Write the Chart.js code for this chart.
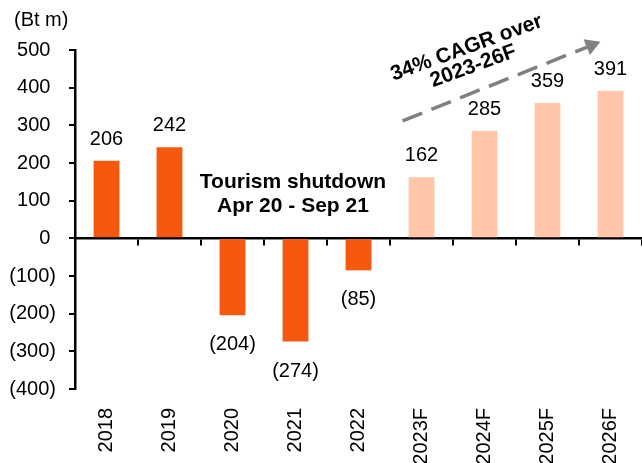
<!DOCTYPE html>
<html><head><meta charset="utf-8">
<script src="https://cdn.jsdelivr.net/npm/chart.js@4.4.1/dist/chart.umd.min.js"></script>
<style>html,body{margin:0;padding:0;background:#fff}</style>
</head><body>
<canvas id="c" width="642" height="463"></canvas>
<script>
// ---- data ----
const categories = ['2018','2019','2020','2021','2022','2023F','2024F','2025F','2026F'];
const values = [206, 242, -204, -274, -85, 162, 285, 359, 391];
const isForecast = [false,false,false,false,false,true,true,true,true];
const yMin = -400, yMax = 500, yStep = 100;
const unitLabel = '(Bt m)';
const shutdownNote = ['Tourism shutdown', 'Apr 20 - Sep 21'];
const cagrNote = ['34% CAGR over', '2023-26F'];

// ---- styling / annotation anchors (in scale units) ----
const FONT = "'Liberation Sans', Arial, sans-serif";
const actualColor = '#F4590F';
const forecastColor = '#FFC6AA';
const shutdownAnchor = {x: 2.96, y: 133};
const cagrAnchor = {x: 5.80, y: 467, angle: -20};
const arrowFrom = {x: 4.70, y: 312};
const arrowTo = {x: 7.84, y: 522};

const fmtY = v => v < 0 ? '(' + (-v) + ')' : v + ' ';
const fmtLabel = v => v < 0 ? '(' + (-v) + ')' : String(v);

const overlay = {
  id: 'overlay',
  afterDraw(chart) {
    const ctx = chart.ctx;
    const xs = chart.scales.x, ys = chart.scales.y;
    const meta = chart.getDatasetMeta(0);
    ctx.save();
    ctx.fillStyle = '#000';
    // unit label above the y axis
    ctx.font = '20px ' + FONT;
    ctx.textAlign = 'left';
    ctx.textBaseline = 'middle';
    ctx.fillText(unitLabel, chart.chartArea.left - 61, chart.chartArea.top - 30);
    // data labels
    ctx.textAlign = 'center';
    ctx.textBaseline = 'alphabetic';
    meta.data.forEach((bar, i) => {
      const v = values[i];
      ctx.fillText(fmtLabel(v), bar.x, v >= 0 ? bar.y - 16 : bar.y + 35);
    });
    ctx.font = 'bold 21px ' + FONT;
    const sx = xs.getPixelForValue(shutdownAnchor.x), sy = ys.getPixelForValue(shutdownAnchor.y);
    shutdownNote.forEach((t, k) => ctx.fillText(t, sx, sy + k * 23.5));
    const cx = xs.getPixelForValue(cagrAnchor.x), cy = ys.getPixelForValue(cagrAnchor.y);
    ctx.save();
    ctx.translate(cx, cy);
    ctx.rotate(cagrAnchor.angle * Math.PI / 180);
    ctx.font = 'bold 21px ' + FONT;
    ctx.fillText(cagrNote[0], 0, -9.5);
    ctx.fillText(cagrNote[1], 0, 10);
    ctx.restore();
    const x1 = xs.getPixelForValue(arrowFrom.x), y1 = ys.getPixelForValue(arrowFrom.y);
    const x2 = xs.getPixelForValue(arrowTo.x), y2 = ys.getPixelForValue(arrowTo.y);
    const ang = Math.atan2(y2 - y1, x2 - x1);
    const head = 17, half = Math.PI / 6;
    const bx = x2 - head * Math.cos(ang) * 0.85, by = y2 - head * Math.sin(ang) * 0.85;
    ctx.strokeStyle = '#808080';
    ctx.fillStyle = '#808080';
    ctx.lineWidth = 3.5;
    ctx.setLineDash([21, 10]);
    ctx.beginPath(); ctx.moveTo(x1, y1); ctx.lineTo(bx, by); ctx.stroke();
    ctx.setLineDash([]);
    ctx.beginPath();
    ctx.moveTo(x2, y2);
    ctx.lineTo(x2 - head * Math.cos(ang - half), y2 - head * Math.sin(ang - half));
    ctx.lineTo(x2 - head * Math.cos(ang + half), y2 - head * Math.sin(ang + half));
    ctx.closePath(); ctx.fill();
    ctx.restore();
  }
};

new Chart(document.getElementById('c'), {
  type: 'bar',
  data: {
    labels: categories,
    datasets: [{
      data: values,
      backgroundColor: isForecast.map(f => f ? forecastColor : actualColor),
      barPercentage: 0.41,
      categoryPercentage: 1,
      xAxisID: 'x',
      yAxisID: 'y'
    }]
  },
  options: {
    responsive: false,
    animation: false,
    devicePixelRatio: 1,
    layout: {padding: {left: 5, right: 0, top: 50, bottom: 0}},
    plugins: {
      legend: {display: false},
      tooltip: {enabled: false},
      title: {display: false}
    },
    scales: {
      x: {
        type: 'category', position: 'bottom', offset: true,
        afterFit: s => { s.height = 74; s.paddingLeft = 0; s.paddingRight = 0; },
        grid: {display: false, drawTicks: false},
        border: {display: false},
        ticks: {color: '#000', font: {family: FONT, size: 20}, minRotation: 90, maxRotation: 90, autoSkip: false, padding: 19}
      },
      x0: {
        type: 'category', labels: categories, position: {y: 0}, offset: true,
        afterFit: s => { s.paddingLeft = 0; s.paddingRight = 0; },
        grid: {offset: true, drawOnChartArea: false, drawTicks: true, tickLength: 6, color: '#000', lineWidth: 2},
        border: {display: true, color: '#000', width: 2.5},
        ticks: {display: false}
      },
      y: {
        min: yMin, max: yMax,
        afterFit: s => { s.width = 70; s.paddingTop = 0; s.paddingBottom = 0; },
        grid: {drawOnChartArea: false, drawTicks: true, tickLength: 6, color: '#000', lineWidth: 2},
        border: {display: true, color: '#000', width: 2.5},
        ticks: {stepSize: yStep, color: '#000', font: {family: FONT, size: 20}, padding: 13, callback: v => fmtY(v)}
      }
    }
  },
  plugins: [overlay]
});
</script>
</body></html>
